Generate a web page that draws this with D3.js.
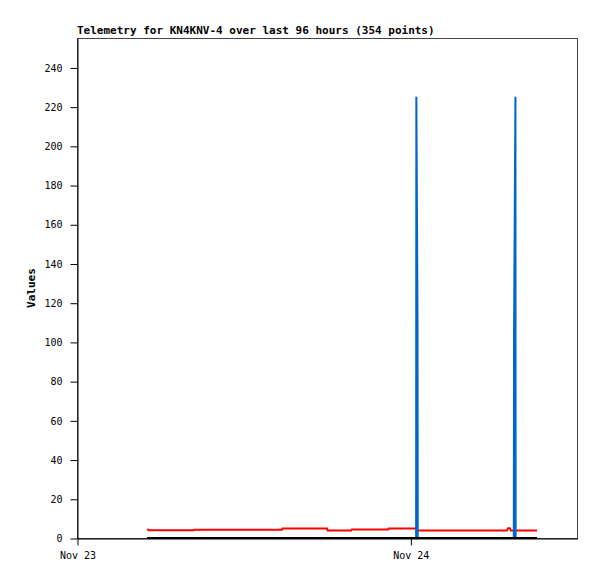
<!DOCTYPE html>
<html><head><meta charset="utf-8">
<script src="https://cdn.jsdelivr.net/npm/d3@7"></script>
<style>body{margin:0;background:#fff}svg{display:block}</style>
</head><body>
<svg id="c" width="597" height="579"></svg>
<script>
const title = "Telemetry for KN4KNV-4 over last 96 hours (354 points)";
const yLabel = "Values";
const xDomain = ["2024-11-23T00:00", "2024-11-24T12:00"];
const xTickValues = ["2024-11-23T00:00", "2024-11-24T00:00"];
const yTickValues = [0,20,40,60,80,100,120,140,160,180,200,220,240];
const yMax = 255;

const redTimes = ["2024-11-23T05:03","2024-11-23T05:10","2024-11-23T08:25","2024-11-23T08:28","2024-11-23T14:45","2024-11-23T14:48","2024-11-23T18:00","2024-11-23T18:03","2024-11-23T19:44","2024-11-23T19:47","2024-11-23T22:24","2024-11-23T22:27","2024-11-24T00:25","2024-11-24T00:28","2024-11-24T06:57","2024-11-24T07:02","2024-11-24T07:10","2024-11-24T07:14","2024-11-24T09:07"];
const redValues = [4.6,3.9,3.9,4.2,4.2,4.8,4.8,3.8,3.8,4.3,4.3,4.9,4.9,3.8,3.8,5.0,5.0,3.8,3.8];

const blueTimes = ["2024-11-23T05:03","2024-11-24T00:25","2024-11-24T00:26","2024-11-24T00:31","2024-11-24T00:32","2024-11-24T07:27","2024-11-24T07:28","2024-11-24T07:34","2024-11-24T07:35","2024-11-24T09:07"];
const blueValues = [0,0,225,112,0,0,104,225,0,0];

const blackTimes = ["2024-11-23T05:03","2024-11-24T09:07"];
const blackValues = [0,0];

const parse = d3.timeParse("%Y-%m-%dT%H:%M");
const L = 77, R = 577, T = 38, B = 538;
const svg = d3.select("#c");
const x = d3.scaleTime().domain(xDomain.map(parse)).range([L, R]);
const y = d3.scaleLinear().domain([0, yMax]).range([B, T]);

// frame
svg.append("rect").attr("x", L+0.5).attr("y", T+0.5).attr("width", R-L).attr("height", B-T)
  .attr("fill", "none").attr("stroke", "#444").attr("stroke-width", 1);

const mono = "'DejaVu Sans Mono', monospace";

// y axis
const ya = svg.append("g").attr("transform", `translate(${L+0.5},0.5)`)
  .call(d3.axisLeft(y).tickValues(yTickValues).tickSize(7).tickPadding(8).tickSizeOuter(0));
ya.select(".domain").attr("stroke", "#000");
ya.selectAll("text").attr("font-family", mono).attr("font-size", 10).attr("fill", "#000");

// x axis
const xa = svg.append("g").attr("transform", `translate(0.5,${B+0.5})`)
  .call(d3.axisBottom(x).tickValues(xTickValues.map(parse)).tickFormat(d3.timeFormat("%b %d")).tickSize(7).tickPadding(6).tickSizeOuter(0));
xa.select(".domain").attr("stroke", "#000");
xa.selectAll("text").attr("font-family", mono).attr("font-size", 10).attr("fill", "#000");

// title
svg.append("text").attr("x", L).attr("y", 34).attr("font-family", mono).attr("font-weight", "bold")
  .attr("font-size", 11).attr("fill", "#000").text(title);

// y label
svg.append("text").attr("transform", `translate(35,${(T+B)/2}) rotate(-90)`).attr("text-anchor", "middle")
  .attr("font-family", mono).attr("font-weight", "bold").attr("font-size", 11).attr("fill", "#000").text(yLabel);

const line = d3.line().x(d => x(d[0])).y(d => y(d[1]));
function series(times, vals, color, w) {
  const data = times.map((t, i) => [parse(t), vals[i]]);
  svg.append("path").datum(data).attr("d", line).attr("fill", "none")
    .attr("stroke", color).attr("stroke-width", w);
}
series(redTimes, redValues, "#ff0000", 2);
series(blueTimes, blueValues, "#0066cc", 2);
series(blackTimes, blackValues, "#000000", 2);
</script>
</body></html>
